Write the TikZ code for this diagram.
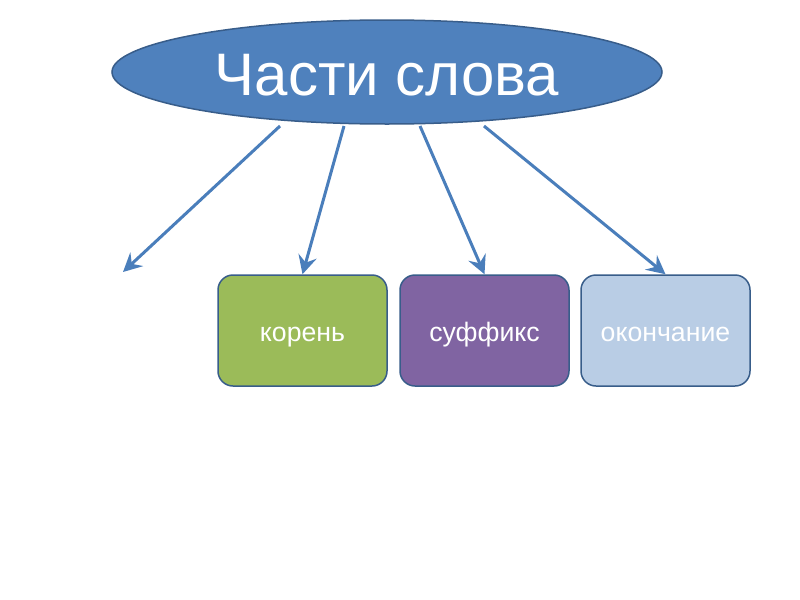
\documentclass[tikz,border=0pt]{standalone}
\usepackage{fontspec}
\setmainfont{Liberation Sans}
\usetikzlibrary{shapes.geometric,arrows.meta}
\definecolor{elfill}{HTML}{4F81BD}
\definecolor{edgeline}{HTML}{385D8A}
\definecolor{arrowc}{HTML}{4A7EBB}
\definecolor{greenf}{HTML}{9BBB59}
\definecolor{purplef}{HTML}{8064A2}
\definecolor{lightf}{HTML}{B9CDE5}
\tikzset{
  title/.style={ellipse, draw=edgeline, line width=1.125pt, fill=elfill,
    minimum width=412.5pt, minimum height=78pt, inner sep=0pt,
    text height=34.5pt, text depth=0pt,
    text=white, font=\fontsize{45pt}{50pt}\selectfont},
  partbox/.style={rounded corners=11.25pt, draw=edgeline, line width=1.125pt,
    minimum width=126.75pt, minimum height=83.25pt, inner sep=0pt,
    text height=15.8pt, text depth=0pt,
    text=white, font=\fontsize{20pt}{24pt}\selectfont},
  link/.style={draw=arrowc, line width=2.25pt,
    -{Stealth[length=14pt,width=14pt,inset=5pt]}}
}
\begin{document}
\begin{tikzpicture}[x=0.75pt,y=-0.75pt]
\useasboundingbox (0,0) rectangle (800,600);
\fill[white] (0,0) rectangle (800,600);
\node[title] (title) at (387,72) {Части слова};
\node[partbox, fill=greenf] (root) at (302.5,330.5) {корень};
\node[partbox, fill=purplef] (suffix) at (484.5,330.5) {суффикс};
\node[partbox, fill=lightf] (ending) at (665.5,330.5) {окончание};
\coordinate (s1) at (280,126);
\coordinate (s2) at (344,126);
\coordinate (s3) at (420,126);
\coordinate (s4) at (484,126);
\coordinate (e1) at (123,272);
\draw[link] (s1) -- (e1);
\draw[link] (s2) -- (root.north);
\draw[link] (s3) -- (suffix.north);
\draw[link] (s4) -- (ending.north);
\end{tikzpicture}
\end{document}
